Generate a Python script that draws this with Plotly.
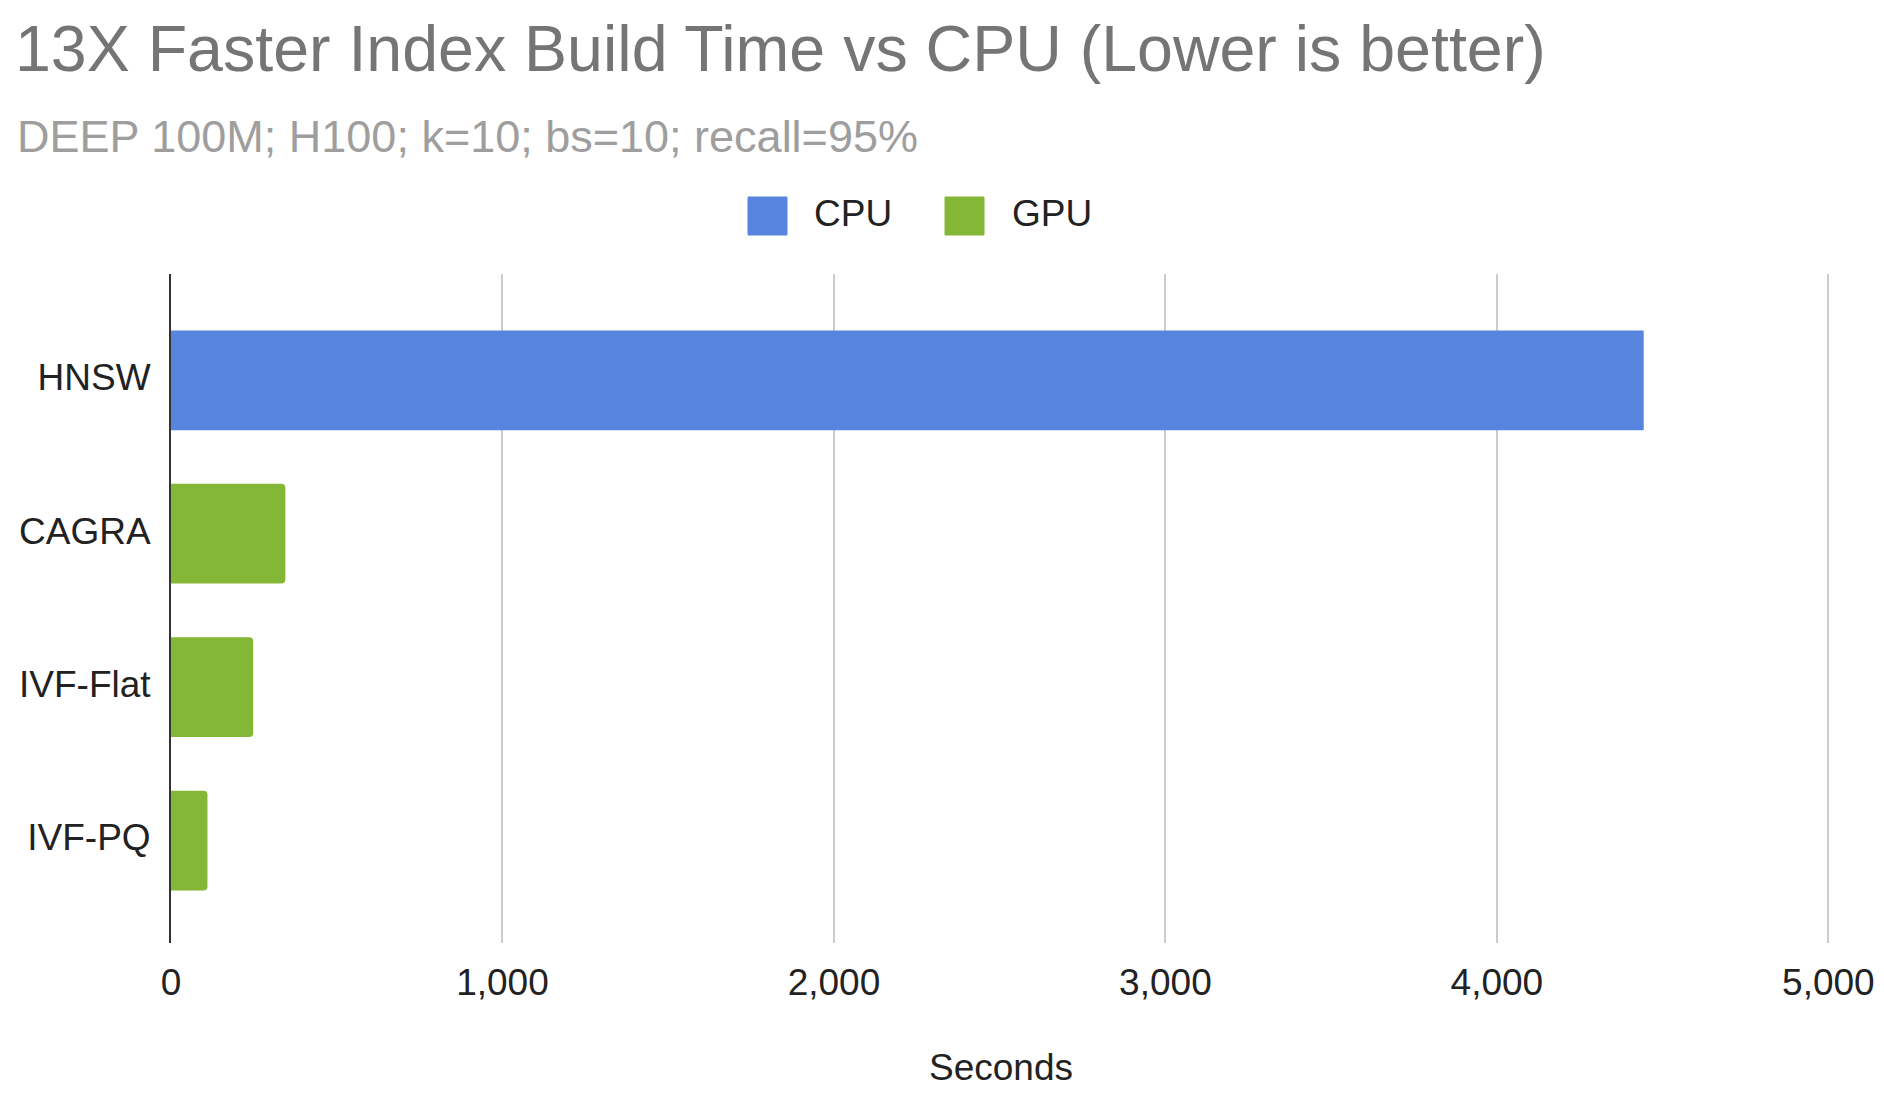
import plotly.graph_objects as go

# ---- data ----
categories = ["HNSW", "CAGRA", "IVF-Flat", "IVF-PQ"]
series_names = ["CPU", "GPU"]
cpu_values = [4443, None, None, None]
gpu_values = [None, 345, 248, 110]
x_ticks = [0, 1000, 2000, 3000, 4000, 5000]
x_tick_labels = ["0", "1,000", "2,000", "3,000", "4,000", "5,000"]

title_text = "13X Faster Index Build Time vs CPU (Lower is better)"
subtitle_text = "DEEP 100M; H100; k=10; bs=10; recall=95%"
x_title = "Seconds"

colors = {"CPU": "#5684DF", "GPU": "#85B737"}

W, H = 1884, 1094
L, R, T, B = 171, 53, 274, 151
PW, PH = W - L - R, H - T - B
FONT = "Liberation Sans, Arial, sans-serif"


def px_x(px):
    return (px - L) / PW


def px_y(py):
    return (H - B - py) / PH


fig = go.Figure()
fig.add_trace(go.Bar(
    y=categories, x=cpu_values, orientation="h", name="CPU",
    marker=dict(color=colors["CPU"], line=dict(width=0), cornerradius=1),
    width=0.65, showlegend=False,
))
fig.add_trace(go.Bar(
    y=categories, x=gpu_values, orientation="h", name="GPU",
    marker=dict(color=colors["GPU"], line=dict(width=0), cornerradius=4),
    width=0.65, showlegend=False,
))

# custom legend (large swatches like the reference)
legend_items = [("CPU", 748, 814), ("GPU", 945, 1012)]
shapes = []
annotations = []
for name, sw_left, text_left in legend_items:
    shapes.append(dict(
        type="rect", xref="paper", yref="paper",
        x0=px_x(sw_left), x1=px_x(sw_left + 39),
        y0=px_y(235), y1=px_y(197),
        fillcolor=colors[name], line=dict(color=colors[name], width=1),
        layer="above",
    ))
    annotations.append(dict(
        text=name, xref="paper", yref="paper",
        x=px_x(text_left - 2), y=px_y(214), xanchor="left", yanchor="middle",
        showarrow=False, font=dict(family=FONT, size=37, color="#222222"),
    ))

annotations.append(dict(
    text=subtitle_text, xref="paper", yref="paper",
    x=px_x(15), y=px_y(137), xanchor="left", yanchor="middle",
    showarrow=False, font=dict(family=FONT, size=45, color="#9E9E9E"),
))

fig.update_layout(
    width=W, height=H,
    margin=dict(l=L, r=R, t=T, b=B, autoexpand=False),
    paper_bgcolor="white", plot_bgcolor="white",
    barmode="overlay",
    title=dict(
        text=title_text, x=15 / W, xanchor="left", xref="container",
        y=1 - 48.5 / H, yanchor="middle", yref="container",
        font=dict(family=FONT, size=64.5, color="#757575"),
    ),
    font=dict(family=FONT, size=37, color="#222222"),
    shapes=shapes,
    annotations=annotations,
    showlegend=False,
    xaxis=dict(
        range=[0, 5008], tickvals=x_ticks, ticktext=x_tick_labels,
        showgrid=True, gridcolor="#CCCCCC", gridwidth=2,
        zeroline=False, showline=False, ticks="",
        tickfont=dict(family=FONT, size=37, color="#222222"),
        ticklabelstandoff=14,
        title=dict(text=x_title, font=dict(family=FONT, size=37, color="#222222"),
                   standoff=52),
        fixedrange=True,
    ),
    yaxis=dict(
        type="category", categoryorder="array", categoryarray=categories,
        range=[3.668, -0.693],
        showgrid=False, zeroline=False,
        showline=True, linecolor="#333333", linewidth=2,
        ticks="", ticklabelstandoff=11, ticklabelshift=3,
        tickfont=dict(family=FONT, size=37, color="#222222"),
        fixedrange=True,
    ),
)

fig.write_html("out.html", include_plotlyjs=True, config={"displayModeBar": False})
